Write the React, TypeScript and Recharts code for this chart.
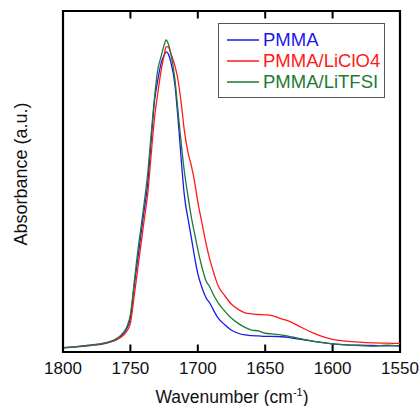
import React from "react";
import {
  LineChart,
  Line,
  XAxis,
  YAxis,
  ReferenceArea,
  ReferenceLine,
} from "recharts";

// wavenumber grid (cm-1), absorbance normalised to plot height
const wavenumbers = [
  1800, 1790, 1780, 1770, 1765, 1760, 1755, 1752, 1750, 1747, 1745, 1742, 1740,
  1737, 1735, 1732, 1730, 1727, 1725, 1723.5, 1722, 1720, 1717, 1715, 1712, 1710,
  1707, 1705, 1702, 1700, 1697, 1694, 1691, 1688, 1685, 1680, 1675, 1670, 1665,
  1660, 1655, 1650, 1645, 1640, 1635, 1630, 1625, 1620, 1615, 1610, 1600, 1590,
  1580, 1570, 1560, 1550,
];

const pmma = [
  0.012, 0.015, 0.019, 0.024, 0.029, 0.037, 0.055, 0.075, 0.1, 0.2, 0.26, 0.35,
  0.41, 0.5, 0.6, 0.74, 0.79, 0.85, 0.87, 0.88, 0.875, 0.85, 0.785, 0.7, 0.55,
  0.46, 0.385, 0.34, 0.27, 0.23, 0.19, 0.16, 0.143, 0.12, 0.1, 0.08, 0.064, 0.055,
  0.05, 0.048, 0.047, 0.046, 0.046, 0.045, 0.044, 0.041, 0.038, 0.035, 0.032,
  0.029, 0.024, 0.021, 0.02, 0.019, 0.018, 0.018,
];

const pmmaLiClO4 = [
  0.013, 0.016, 0.02, 0.025, 0.03, 0.037, 0.05, 0.065, 0.085, 0.17, 0.23, 0.32,
  0.38, 0.47, 0.56, 0.69, 0.75, 0.83, 0.87, 0.895, 0.895, 0.875, 0.84, 0.805,
  0.72, 0.65, 0.58, 0.55, 0.49, 0.44, 0.38, 0.32, 0.27, 0.23, 0.195, 0.165, 0.14,
  0.125, 0.115, 0.112, 0.11, 0.109, 0.107, 0.1, 0.094, 0.086, 0.076, 0.066, 0.057,
  0.049, 0.037, 0.032, 0.029, 0.027, 0.026, 0.025,
];

const pmmaLiTFSI = [
  0.013, 0.016, 0.02, 0.026, 0.031, 0.04, 0.058, 0.08, 0.11, 0.21, 0.28, 0.37,
  0.43, 0.53, 0.62, 0.75, 0.82, 0.87, 0.9, 0.915, 0.905, 0.875, 0.8, 0.72, 0.6,
  0.53, 0.45, 0.4, 0.34, 0.3, 0.25, 0.21, 0.19, 0.165, 0.145, 0.12, 0.099, 0.084,
  0.072, 0.064, 0.062, 0.055, 0.053, 0.051, 0.048, 0.044, 0.04, 0.036, 0.032,
  0.029, 0.024, 0.021, 0.019, 0.017, 0.02, 0.018,
];

const xTicks = [1800, 1750, 1700, 1650, 1600, 1550];

const series = [
  { key: "pmma", name: "PMMA", color: "#1a1ae6" },
  { key: "liclo4", name: "PMMA/LiClO4", color: "#ff1a1a" },
  { key: "litfsi", name: "PMMA/LiTFSI", color: "#1e7a32" },
];

const data = wavenumbers.map((w, i) => ({
  w,
  pmma: pmma[i],
  liclo4: pmmaLiClO4[i],
  litfsi: pmmaLiTFSI[i],
}));

const FONT = '"Liberation Sans", Arial, sans-serif';
const TICK = 0.022; // inward tick length in y units (~7.5px)

function BottomTick({ x, y, payload }: any) {
  return (
    <text
      x={x}
      y={y + 22}
      textAnchor="middle"
      fontSize={17}
      fontFamily={FONT}
      fill="#111"
    >
      {payload.value}
    </text>
  );
}

function LegendBox() {
  return (
    <div
      style={{
        position: "absolute",
        left: 218,
        top: 23,
        width: 167,
        boxSizing: "border-box",
        border: "1.5px solid #555",
        background: "#fff",
        padding: "5px 0 5px 8px",
        fontFamily: FONT,
        fontSize: 18.5,
        lineHeight: "21px",
      }}
    >
      {series.map((s) => (
        <div key={s.key} style={{ display: "flex", alignItems: "center" }}>
          <svg width={32} height={4} style={{ marginRight: 4 }}>
            <line x1={0} x2={32} y1={2} y2={2} stroke={s.color} strokeWidth={1.5} />
          </svg>
          <span style={{ color: s.color }}>{s.name}</span>
        </div>
      ))}
    </div>
  );
}

function AxisTitles() {
  return (
    <svg
      width={420}
      height={406}
      style={{ position: "absolute", left: 0, top: 0, pointerEvents: "none" }}
    >
      <text
        x={232}
        y={403}
        textAnchor="middle"
        fontSize={17.5}
        fontFamily={FONT}
        fill="#111"
      >
        Wavenumber (cm
        <tspan dy={-7} fontSize={11}>
          -1
        </tspan>
        <tspan dy={7}>)</tspan>
      </text>
      <text
        x={27}
        y={174}
        transform="rotate(-90, 27, 174)"
        textAnchor="middle"
        fontSize={18}
        fontFamily={FONT}
        fill="#111"
      >
        Absorbance (a.u.)
      </text>
    </svg>
  );
}

export default function App() {
  return (
    <div
      style={{
        position: "absolute",
        left: 0,
        top: 0,
        width: 420,
        height: 406,
        background: "#fff",
      }}
    >
      <LineChart
        width={420}
        height={406}
        data={data}
        margin={{ top: 11, right: 20, left: 0, bottom: 0 }}
      >
        <XAxis
          dataKey="w"
          type="number"
          domain={[1550, 1800]}
          reversed
          ticks={xTicks}
          tickSize={0}
          tickMargin={0}
          tickLine={false}
          tick={<BottomTick />}
          height={54}
          axisLine={false}
        />
        <YAxis
          type="number"
          domain={[0, 1]}
          ticks={[0, 1]}
          tick={{ fill: "transparent", fontSize: 1 }}
          tickLine={false}
          width={63}
          axisLine={false}
        />
        {series.map((s) => (
          <Line
            key={s.key}
            type="monotone"
            dataKey={s.key}
            name={s.name}
            stroke={s.color}
            strokeWidth={1.3}
            dot={false}
            isAnimationActive={false}
          />
        ))}
        {xTicks.map((t) => (
          <ReferenceLine
            key={`b${t}`}
            segment={[
              { x: t, y: 0 },
              { x: t, y: TICK },
            ]}
            stroke="#000"
            strokeWidth={2}
            ifOverflow="visible"
          />
        ))}
        {xTicks.map((t) => (
          <ReferenceLine
            key={`t${t}`}
            segment={[
              { x: t, y: 1 - TICK },
              { x: t, y: 1 },
            ]}
            stroke="#000"
            strokeWidth={2}
            ifOverflow="visible"
          />
        ))}
        <ReferenceLine y={1} stroke="#000" strokeWidth={2.2} ifOverflow="visible" />
        <ReferenceArea
          x1={1800}
          x2={1550}
          y1={0}
          y2={1}
          fill="none"
          stroke="#000"
          strokeWidth={2.2}
          ifOverflow="visible"
        />
      </LineChart>
      <AxisTitles />
      <LegendBox />
    </div>
  );
}
